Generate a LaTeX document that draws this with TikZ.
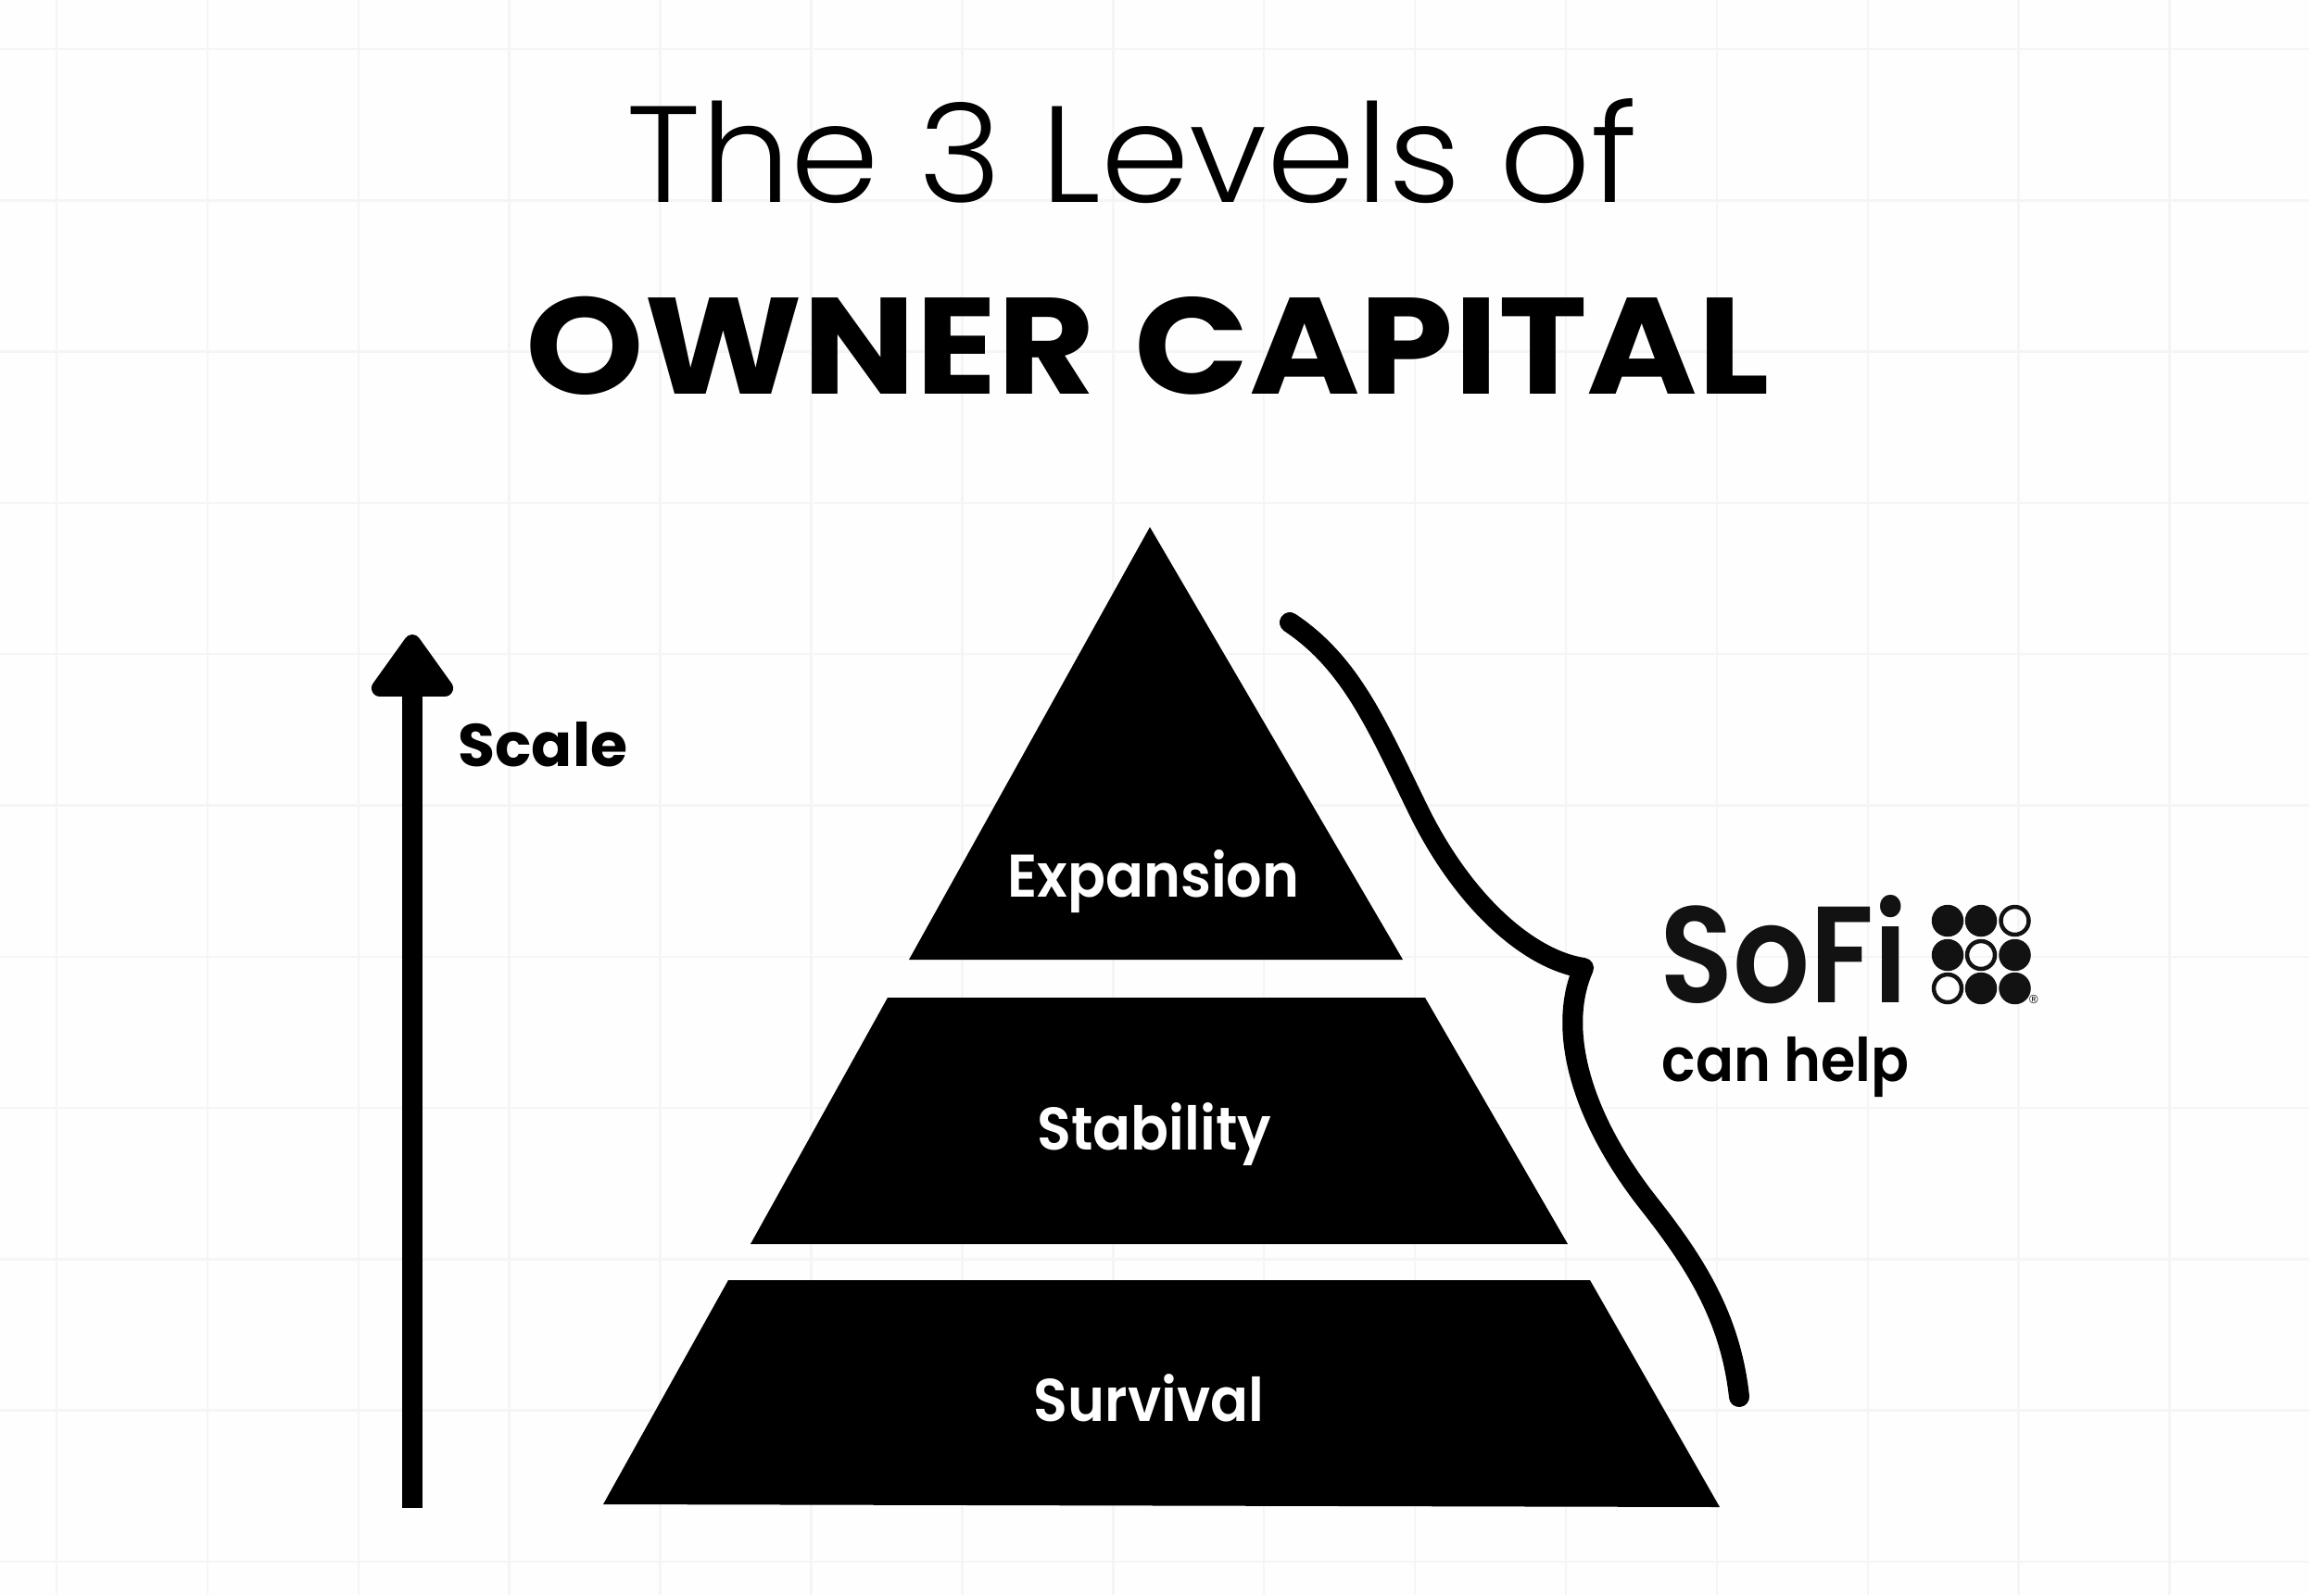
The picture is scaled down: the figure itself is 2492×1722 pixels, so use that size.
\documentclass[tikz,border=0pt]{standalone}
\usepackage{fontspec}
\usetikzlibrary{arrows.meta}
\setmainfont{Poppins}
\newfontfamily\headlight[FakeStretch=1.038]{Poppins Light}
\newfontfamily\headbold[FakeStretch=1.097]{Poppins Bold}
\newfontfamily\tierfont[FakeStretch=0.93]{Poppins SemiBold}
\newfontfamily\logofont[FakeStretch=0.88]{Poppins SemiBold}
\newfontfamily\scalefont{Poppins Bold}
\newfontfamily\regfont{Liberation Sans}
\definecolor{gridgray}{HTML}{F5F5F5}
\definecolor{pagewhite}{HTML}{FEFEFE}
\definecolor{logoblack}{HTML}{121212}
\tikzset{
    tier/.style={fill=black},
    label/.style={anchor=base, inner sep=0pt, outer sep=0pt},
    tierlabel/.style={label, text=white, font=\tierfont\fontsize{65}{65}\selectfont},
    sidelabel/.style={label, font=\tierfont\fontsize{65}{65}\selectfont},
    dotfull/.style={circle, fill=logoblack, minimum size=34.5pt, inner sep=0pt},
    dotring/.style={circle, draw=logoblack, line width=4.5pt, minimum size=30pt, inner sep=0pt}
}
\begin{document}
\begin{tikzpicture}[x=1pt, y=-1pt]
        \useasboundingbox (0,0) rectangle (2492,1722);
        \fill[pagewhite] (0,0) rectangle (2492,1722);
        \foreach \k in {0,...,14} {
            \draw[gridgray, line width=2.5pt] ({61+162.9*\k},0) -- ({61+162.9*\k},1722);
        }
        \foreach \k in {0,...,10} {
            \draw[gridgray, line width=2.5pt] (0,{53+163.3*\k}) -- (2492,{53+163.3*\k});
        }
        \node[label, font=\headlight\fontsize{148}{148}\selectfont] (title) at (1222,218) {The 3 Levels of};
        \node[label, font=\headbold\fontsize{148}{148}\selectfont] (owner) at (1239,425) {OWNER\hspace{8pt} CAPITAL};
        \fill[tier] (1241,569) -- (1514,1036) -- (981,1036) -- cycle;
        \fill[tier] (958,1077) -- (1538,1077) -- (1692,1343) -- (810,1343) -- cycle;
        \fill[tier] (786,1382) -- (1716,1382) -- (1856,1627) -- (651,1624) -- cycle;
        \node[tierlabel] (expansion) at (1245,968) {Expansion};
        \node[tierlabel] (stability) at (1246,1241) {Stability};
        \node[tierlabel] (survival) at (1240,1534) {Survival};
        \coordinate (scalebase) at (445,1628);
        \coordinate (scaletip) at (445,685);
        \draw[line width=22pt, -{Triangle[length=74pt, width=100pt, line width=18pt, round]}] (scalebase) -- (scaletip);
        \node[sidelabel, font=\scalefont\fontsize{65}{65}\selectfont] (scale) at (586,827) {Scale};
        \coordinate (bracetop) at (1392,672);
        \coordinate (bracecorner) at (1709,1045);
        \coordinate (braceend) at (1877,1508);
        \draw[line width=22pt, line cap=round, line join=round]
            (bracetop) .. controls (1458,716) and (1486,783) .. (1530,873)
            .. controls (1578,972) and (1649,1036) .. (bracecorner)
            .. controls (1680,1110) and (1705,1205) .. (1780,1300)
            .. controls (1832,1366) and (1868,1425) .. (braceend);
        \node[label, text=logoblack, font=\logofont\fontsize{148}{148}\selectfont] (sofi) at (1925,1082) {SoFi};
        \node[sidelabel] (canhelp) at (1927,1167) {can help};
        \node[dotfull] (dota) at (2102,994) {};
        \node[dotfull] (dotb) at (2138,994) {};
        \node[dotring] (dotc) at (2174.5,994) {};
        \node[dotfull] (dotd) at (2102,1031) {};
        \node[dotring] (dote) at (2138,1031) {};
        \node[dotfull] (dotf) at (2174.5,1031) {};
        \node[dotring] (dotg) at (2102,1067) {};
        \node[dotfull] (doth) at (2138,1067) {};
        \node[dotfull] (doti) at (2174.5,1067) {};
        \node[label, anchor=center, font=\regfont\fontsize{13}{13}\selectfont] (regmark) at (2195,1079) {®};
        \end{tikzpicture}
\end{document}
